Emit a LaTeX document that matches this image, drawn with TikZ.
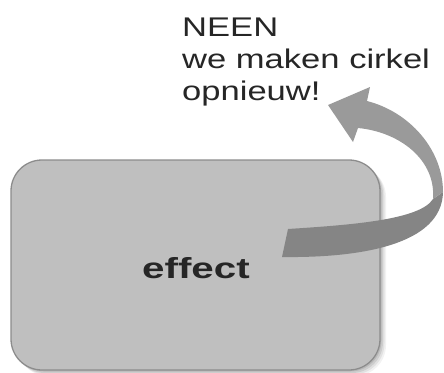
\documentclass[tikz,border=0pt]{standalone}
\usepackage{fontspec}
\setmainfont{Liberation Sans}
\newfontfamily\notefont[FakeStretch=1.28]{Liberation Sans}
\newfontfamily\effectfont[FakeStretch=1.39]{Liberation Sans}
\definecolor{boxfill}{HTML}{BFBFBF}
\definecolor{boxline}{HTML}{8C8C8C}
\definecolor{ribbonlight}{HTML}{9A9A9A}
\definecolor{ribbondark}{HTML}{858585}
\definecolor{ink}{HTML}{262626}
\begin{document}
\begin{tikzpicture}[x=1pt, y=-1pt,
  card/.style={rounded corners=31pt, minimum width=369pt, minimum height=210pt,
    inner sep=0pt, fill=boxfill, draw=boxline, line width=1.3pt},
  note/.style={anchor=base west, inner sep=0pt, text=ink,
    font=\notefont\fontsize{27}{32}\selectfont},
  label/.style={anchor=base, inner sep=0pt, text=ink,
    font=\effectfont\bfseries\fontsize{29}{34}\selectfont}]
\useasboundingbox (0,0) rectangle (444,372);

% soft shadow under the card
\foreach \d/\o in {6/0.05,4.5/0.07,3/0.09,1.5/0.1}
  \fill[black, opacity=\o, rounded corners=31pt]
    (11+\d,160+\d) rectangle (380+\d,370+\d);

% the card
\node[card] (card) at (195.5,265) {};
\node[label] (effect) at (196,278) {effect};

% text above
\node[note] (l1) at (182,36)  {NEEN};
\node[note] (l2) at (182,68)  {we maken cirkel};
\node[note] (l3) at (182,100) {opnieuw!};

% curved ribbon arrow
\coordinate (tip) at (328,105);
\coordinate (barbA) at (370,87);
\coordinate (headOut) at (367,101);
\coordinate (headIn) at (358,128);
\coordinate (barbB) at (353,142);
\coordinate (twistOut) at (443,192);
\coordinate (twistIn) at (433,199);
\coordinate (tailTop) at (288,229);
\coordinate (tailBot) at (282,257);

\fill[ribbondark] (twistOut) .. controls (442,245) and (360,258) .. (tailBot)
  -- (tailTop) .. controls (350,225) and (420,220) .. (twistIn) -- cycle;
\fill[ribbonlight] (tip) -- (barbA) -- (headOut)
  .. controls (410,112) and (443,150) .. (twistOut)
  -- (twistIn) .. controls (436,160) and (400,132) .. (headIn)
  -- (barbB) -- cycle;
\end{tikzpicture}
\end{document}
